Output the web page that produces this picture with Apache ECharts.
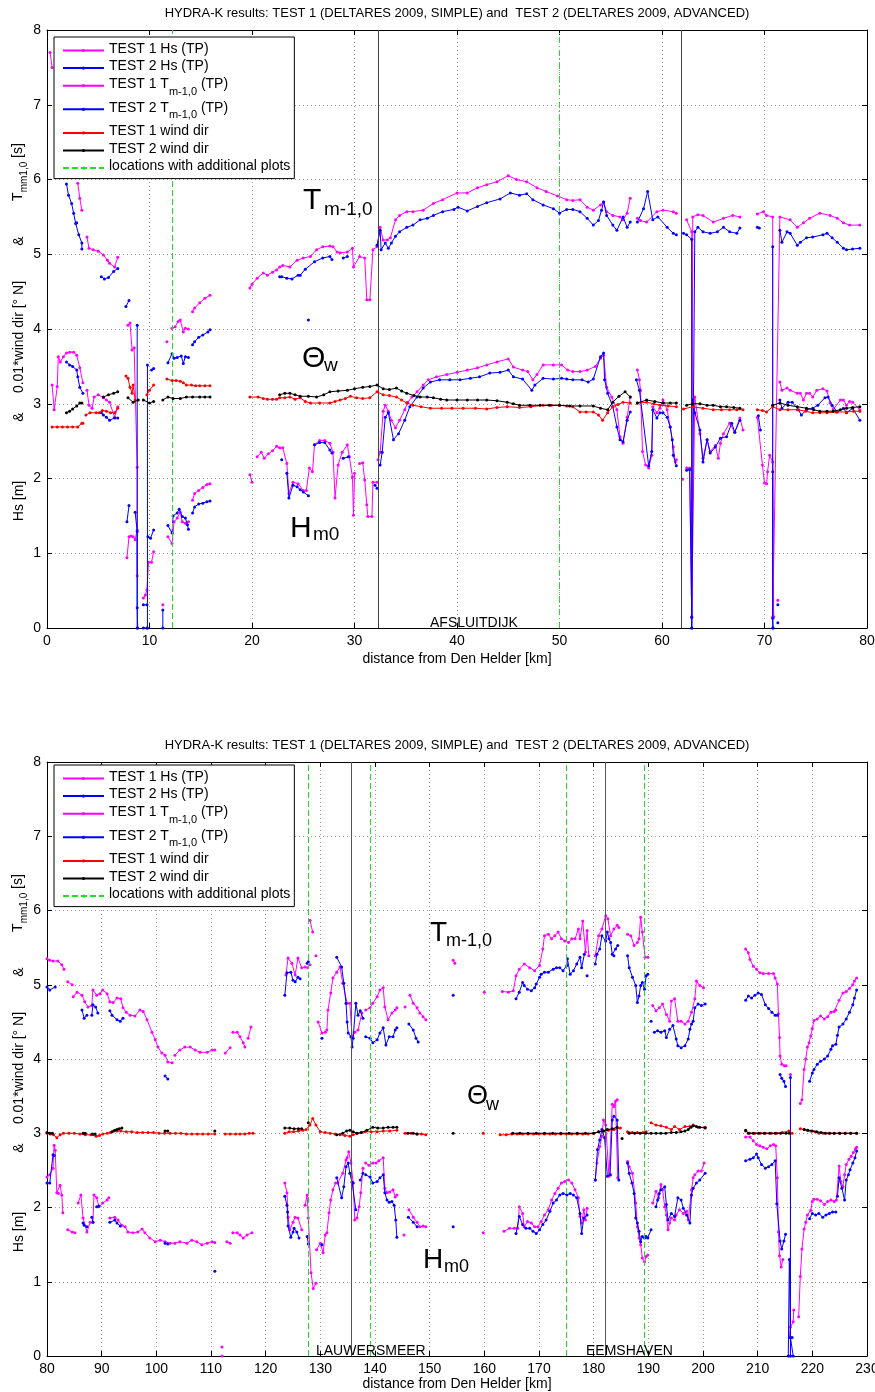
<!DOCTYPE html>
<html><head><meta charset="utf-8">
<script src="https://cdn.jsdelivr.net/npm/echarts@6/dist/echarts.min.js"></script>
<style>html,body{margin:0;padding:0;background:#fff}#c{width:875px;height:1392px}</style>
</head><body><div id="c"></div>
<script>
// ---------------- DATA (km, value); null = gap ----------------
const titleText = 'HYDRA-K results: TEST 1 (DELTARES 2009, SIMPLE) and  TEST 2 (DELTARES 2009, ADVANCED)';
const topRange = [0, 80];
const botRange = [80, 230];
const topGreenLines = [12.2, 50];
const topBlackLines = [32.3, 61.9];
const botGreenLines = [127.7, 139.2, 175.0, 189.2];
const botBlackLines = [135.7, 182.2];

const topT1Hs = [
[0.5,3.25],[0.7,2.92],[1.0,3.23],[1.1,3.63],[1.3,3.56],[1.6,3.63],[1.9,3.68],[2.2,3.69],[2.6,3.69],[2.9,3.65],[3.2,3.48],[3.5,3.28],null,
[3.9,3.18],[4.1,2.98],[4.4,2.94],[4.6,3.09],[5.0,3.12],[5.5,3.08],[5.8,3.05],[6.1,3.02],[6.6,2.82],[6.9,2.96],null,
[7.8,0.94],[8.0,1.22],[8.2,1.23],[8.4,1.22],[8.6,1.18],[8.8,1.31],null,
[9.4,0.4],[9.6,0.44],[9.75,0.51],[9.9,0.88],[10.2,0.88],[10.4,1.02],null,
[11.3,0.31],null,
[11.8,1.22],[12.2,1.13],[12.4,1.42],[12.7,1.47],[13.0,1.55],[13.2,1.42],[13.5,1.4],[13.8,1.42],null,
[14.2,1.71],[14.4,1.8],[14.8,1.84],[15.2,1.88],[15.6,1.92],[15.9,1.93],null,
[19.8,2.05],[20.0,1.95],null,
[20.5,2.29],[20.9,2.35],[21.2,2.27],[21.6,2.33],[22.0,2.37],[22.4,2.43],[22.7,2.41],[23.0,2.41],[23.4,2.2],[23.6,1.8],[24.0,1.95],[24.5,1.93],[25.0,1.84],[25.3,1.84],[25.6,2.14],[25.9,2.09],[26.1,2.45],[26.6,2.51],[27.1,2.51],[27.6,2.47],[27.9,2.35],[28.1,1.74],[28.4,2.18],[28.8,2.35],[29.3,2.45],[29.5,2.29],[29.8,2.02],[29.9,1.51],[30.0,2.07],null,
[30.5,2.2],[30.8,2.21],[31.0,1.98],[31.2,1.65],[31.3,1.49],[31.7,1.49],[31.8,1.95],[32.2,1.95],null,
[32.3,2.25],[32.5,2.35],[32.8,2.9],[33.0,2.98],[33.3,2.9],[33.6,2.78],[34.0,2.68],[34.4,2.78],[34.9,2.92],[35.2,3.02],[35.6,3.09],[36.1,3.16],[36.7,3.25],[37.2,3.32],[38.0,3.36],[39.0,3.39],[40.0,3.42],[41.0,3.45],[42.0,3.48],[42.9,3.52],[43.9,3.56],[45.0,3.6],[45.5,3.49],[46.4,3.45],[46.9,3.43],[47.4,3.32],[47.8,3.39],[48.4,3.52],[49.4,3.52],[50.2,3.52],[50.8,3.45],[51.3,3.43],[52.0,3.43],[52.7,3.45],[53.5,3.5],[54.0,3.61],[54.3,3.65],[54.6,3.22],[55.1,3.09],[55.6,2.92],[55.9,2.56],[56.2,2.47],[56.6,2.82],[56.9,3.09],null,
[57.6,3.45],[57.8,3.32],[57.9,3.18],[58.1,2.36],[58.4,2.18],[58.7,2.14],[59.0,2.31],[59.1,2.96],[59.5,2.88],[59.8,2.94],[60.1,3.05],[60.5,2.92],[60.8,2.69],[61.1,2.42],[61.3,2.22],[61.4,2.25],null,
[62.0,1.99],null,
[62.4,2.14],[62.7,2.14],[62.9,0.15],[63.2,3.09],[63.7,2.6],[64.0,2.27],[64.4,2.52],[64.7,2.36],[65.2,2.44],[65.5,2.27],[65.7,2.47],[66.0,2.6],[66.6,2.74],[67.1,2.62],[67.6,2.81],[67.9,2.65],null,
[69.3,2.82],[69.8,2.18],[70.0,1.94],[70.2,1.93],[70.3,2.09],[70.5,2.31],[70.8,2.22],[70.9,0.15],null,
[71.3,0.37],null,
[71.5,3.29],[71.7,3.18],[72.2,3.21],[72.5,3.18],[73.2,3.14],[73.5,3.14],[73.8,3.05],[74.1,3.14],[74.4,3.14],[74.7,3.09],[75.1,3.18],[75.7,3.2],[76.1,3.17],[76.4,3.01],[76.7,2.92],[77.4,3.05],[77.7,3.05],[78.0,2.98],[78.3,3.03],[78.6,3.02],[79.3,2.92]
];
const topT2Hs = [
[1.9,3.56],[2.2,3.52],[2.5,3.5],[2.9,3.45],[3.0,3.36],[3.2,3.22],[3.5,3.14],null,
[5.3,2.88],[5.5,2.85],[5.8,2.82],[6.1,2.78],[6.6,2.81],[6.9,2.81],null,
[7.8,1.42],[8.0,1.64],null,
[8.6,1.55],[8.8,1.29],[8.8,0.27],[8.85,0.0],null,
[9.4,0.31],[9.75,0.31],null,
[9.4,0.0],[9.75,0.0],null,
[9.85,1.22],[10.1,1.2],[10.4,1.31],null,
[11.3,0.24],[11.3,0.0],null,
[11.8,1.37],[12.2,1.27],[12.3,1.5],[12.7,1.54],[12.9,1.59],[13.2,1.49],[13.5,1.47],[13.7,1.38],[13.8,1.32],null,
[14.2,1.54],[14.4,1.62],[14.8,1.66],[15.2,1.67],[15.6,1.69],[15.9,1.7],null,
[22.9,2.25],null,
[23.4,2.07],[23.6,1.74],[24.0,1.91],[24.4,1.89],[24.7,1.85],[25.0,1.82],[25.5,1.77],null,
[26.1,2.45],[26.6,2.48],[27.1,2.48],[27.6,2.38],[27.8,2.34],null,
[28.9,2.27],[29.4,2.29],null,
[32.0,1.91],[32.2,1.87],null,
[32.5,2.18],[32.7,2.35],[33.0,2.82],[33.3,2.88],[33.8,2.52],[34.3,2.6],[34.9,2.78],[35.4,2.96],[36.1,3.09],[36.7,3.21],[37.4,3.29],[38.3,3.32],[39.3,3.32],[40.3,3.32],[41.3,3.34],[42.2,3.36],[43.2,3.41],[44.2,3.42],[45.0,3.45],[45.5,3.36],[46.4,3.33],[47.3,3.18],[47.6,3.25],[48.4,3.34],[49.4,3.33],[50.2,3.34],[50.7,3.33],[51.3,3.32],[52.2,3.32],[52.8,3.29],[53.3,3.33],[54.0,3.63],[54.3,3.68],[54.4,3.32],[54.7,3.14],[55.2,2.96],[55.6,2.69],[55.9,2.52],[56.2,2.49],[56.6,2.78],[56.9,2.89],null,
[57.5,3.32],[57.8,3.18],[58.7,2.17],[59.0,2.36],[59.1,2.92],[59.5,2.81],[59.8,2.88],[60.1,2.88],[60.5,2.82],[60.8,2.69],[61.0,2.52],[61.1,2.31],[61.4,2.17],null,
[62.4,2.11],[62.7,2.12],[62.9,0.14],[62.9,0.0],null,
[63.0,3.05],[63.2,2.88],[63.7,2.65],[64.0,2.22],[64.4,2.52],[64.7,2.34],[65.2,2.42],[65.7,2.54],[66.3,2.56],[66.8,2.74],[67.1,2.62],[67.6,2.78],null,
[69.4,2.84],[69.6,2.65],null,
[70.8,2.09],[70.8,0.13],[70.85,0.0],null,
[71.3,0.31],null,[71.3,0.07],null,
[71.5,3.05],[71.7,2.94],[72.3,3.02],[72.7,3.02],[73.3,2.92],[73.6,2.85],[74.1,2.92],[74.7,2.94],[75.2,2.98],[75.9,3.08],[76.2,3.09],[76.6,2.98],[77.1,2.89],[77.7,2.94],[78.0,2.88],[78.6,2.94],[79.3,2.78]
];
const topT1Tm = [
[0.3,7.7],[0.5,7.5],null,
[3.0,5.95],[3.2,5.75],[3.4,5.59],null,
[3.9,5.23],[4.1,5.08],[4.5,5.06],[5.0,5.04],[5.5,4.99],[5.9,4.92],[6.1,4.88],[6.6,4.83],[6.9,4.96],null,
[7.9,4.05],[8.1,4.08],[8.3,3.72],[8.5,3.75],[8.8,2.15],[8.8,0.7],null,
[11.7,3.83],null,
[12.2,4.01],[12.5,4.03],[12.8,4.1],[13.0,4.12],[13.3,3.96],[13.5,4.01],[13.8,4.0],null,
[14.2,4.23],[14.4,4.28],[14.9,4.35],[15.4,4.41],[15.9,4.45],null,
[19.8,4.55],[20.0,4.6],[20.5,4.68],[21.1,4.75],[21.5,4.72],[22.0,4.76],[22.4,4.79],[22.7,4.83],[23.0,4.85],[23.7,4.83],[24.4,4.92],[25.0,4.95],[25.7,4.97],[26.3,5.06],[26.9,5.1],[27.6,5.11],[27.9,5.1],[28.3,5.03],[28.6,5.02],[29.3,5.03],[29.8,5.08],[29.9,4.83],[30.5,4.97],[31.0,4.95],[31.2,4.39],[31.5,4.39],[31.8,5.06],[32.2,5.1],
[32.5,5.36],[32.8,5.19],[33.2,5.19],[33.5,5.22],[34.0,5.46],[34.4,5.52],[35.1,5.57],[35.7,5.57],[36.7,5.59],[37.7,5.68],[38.6,5.73],[40.0,5.82],[41.0,5.82],[42.0,5.89],[42.9,5.93],[43.9,5.97],[45.0,6.05],[45.8,6.0],[46.8,5.97],[47.8,5.89],[48.7,5.84],[49.8,5.78],[50.7,5.73],[51.3,5.72],[52.0,5.73],[52.7,5.63],[53.3,5.59],[54.0,5.66],[54.3,5.7],[54.6,5.57],[55.2,5.52],[55.9,5.5],[56.2,5.46],[56.6,5.55],[56.9,5.75],null,
[57.6,5.48],[57.9,5.45],[58.5,5.43],[59.5,5.57],[60.1,5.59],[61.1,5.57],[61.4,5.55],null,
[62.4,5.46],[62.9,5.3],[62.9,0.15],[63.0,5.5],[63.5,5.53],[64.0,5.52],[65.0,5.43],[66.0,5.48],[66.9,5.52],[67.6,5.5],null,
[69.3,5.54],[69.9,5.57],[70.2,5.52],[70.8,5.5],[70.8,0.15],[71.5,5.5],[72.5,5.46],[73.2,5.36],[73.8,5.42],[74.4,5.48],[75.4,5.55],[76.4,5.52],[77.1,5.48],[77.7,5.42],[78.3,5.39],[79.3,5.39]
];
const topT2Tm = [
[1.9,5.94],[2.1,5.79],[2.4,5.68],[2.6,5.55],[2.8,5.41],[2.9,5.42],[3.1,5.26],[3.4,5.15],[3.4,5.07],null,
[5.3,4.7],[5.6,4.67],[6.0,4.69],[6.5,4.77],[6.9,4.81],null,
[7.7,4.3],[8.0,4.38],null,
[8.8,4.05],[8.8,0.0],null,
[9.8,3.52],[9.8,0.0],null,
[10.2,3.45],[10.4,3.47],null,
[11.8,3.55],[12.2,3.67],[12.4,3.61],[12.7,3.62],[13.1,3.64],[13.3,3.54],[13.5,3.63],[13.8,3.62],null,
[14.2,3.79],[14.4,3.83],[14.8,3.89],[15.2,3.92],[15.7,3.96],[15.9,3.99],null,
[22.7,4.7],[22.9,4.7],[23.4,4.68],[23.9,4.67],[24.5,4.72],[24.7,4.72],[25.2,4.8],[26.1,4.9],[26.9,4.95],[27.6,4.97],[27.8,4.93],null,
[25.5,4.12],null,
[28.9,4.95],[29.3,4.97],null,
[32.2,5.12],[32.5,5.32],[32.6,5.06],[33.0,5.15],[33.3,5.08],[33.6,5.15],[34.0,5.24],[34.4,5.3],[35.1,5.36],[35.7,5.39],[36.4,5.46],[37.1,5.48],[37.7,5.52],[38.6,5.57],[39.7,5.6],[40.1,5.63],[41.0,5.58],[42.0,5.64],[42.9,5.69],[44.2,5.74],[45.2,5.82],[46.1,5.79],[46.8,5.81],[47.4,5.73],[48.4,5.66],[49.4,5.61],[50.0,5.55],[50.7,5.6],[51.3,5.6],[52.0,5.57],[52.7,5.48],[53.3,5.39],[53.8,5.45],[54.1,5.59],[54.3,5.7],[54.6,5.52],[55.2,5.39],[55.6,5.32],[56.2,5.5],[56.6,5.36],[56.9,5.43],null,
[57.6,5.43],[58.2,5.61],[58.6,5.84],[59.1,5.46],[59.6,5.5],[60.5,5.36],[61.1,5.28],[61.4,5.26],null,
[62.1,5.28],[62.4,5.26],[62.9,5.2],[62.9,0.0],[63.2,5.3],[63.5,5.36],[64.0,5.3],[64.7,5.28],[65.4,5.3],[66.0,5.36],[66.6,5.3],[67.3,5.28],[67.6,5.35],null,
[69.3,5.36],[69.5,5.35],null,
[70.8,5.1],[70.8,0.0],null,
[71.5,5.32],[71.7,5.16],[72.2,5.3],[72.5,5.28],[73.2,5.12],[73.5,5.16],[74.1,5.22],[74.7,5.23],[75.7,5.26],[76.1,5.28],[76.6,5.22],[77.1,5.16],[77.7,5.08],[78.0,5.06],[78.6,5.07],[79.3,5.08]
];
const topT1Wind = [
[0.5,2.69],[1.0,2.69],[1.5,2.69],[2.0,2.69],[2.5,2.69],[3.0,2.69],[3.4,2.74],[3.5,2.74],null,
[3.8,2.85],[4.2,2.88],[4.8,2.88],[5.1,2.88],[5.4,2.91],[5.8,2.9],[6.2,2.88],[6.6,2.88],[6.9,2.94],null,
[7.7,3.37],[7.9,3.34],[8.1,3.22],[8.3,3.14],[8.4,3.25],[8.6,3.05],null,
[9.75,3.12],[10.0,3.18],[10.4,3.25],null,
[11.7,3.33],[12.2,3.31],[12.6,3.31],[13.0,3.3],[13.3,3.28],[13.6,3.25],[14.1,3.25],[14.5,3.24],[14.9,3.24],[15.4,3.24],[15.9,3.24],null,
[19.8,3.09],[20.6,3.09],[21.1,3.07],[21.5,3.06],[22.0,3.06],[22.4,3.06],[22.7,3.08],[23.2,3.08],[23.7,3.09],[24.2,3.06],[24.7,3.08],[25.2,3.03],[25.7,3.01],[26.6,3.01],[27.6,3.01],[28.1,3.03],[28.6,3.05],[29.1,3.07],[29.6,3.1],[30.2,3.08],[30.8,3.07],[31.5,3.08],[32.2,3.16],[32.8,3.12],[33.4,3.11],[34.1,3.09],[34.6,3.05],[35.1,3.01],[35.7,2.98],[36.5,2.96],[37.4,2.94],[38.5,2.94],[39.5,2.94],[40.6,2.94],[41.8,2.94],[42.9,2.93],[43.9,2.95],[44.9,2.96],[46.1,2.95],[47.2,2.96],[48.4,2.98],[49.2,2.98],[50.0,2.98],[50.7,2.97],[51.3,2.96],[52.0,2.89],[52.6,2.89],[53.3,2.89],[53.8,2.85],[54.2,2.78],[54.7,2.88],[55.2,2.96],[55.7,2.99],[56.2,3.02],[56.9,3.01],null,
[57.6,3.01],[58.5,3.02],[59.2,3.0],[59.8,2.98],[60.6,2.97],[61.4,2.96],null,
[62.1,2.93],[63.0,2.96],[64.0,2.94],[65.0,2.92],[65.8,2.92],[66.6,2.92],[67.3,2.92],[67.9,2.92],null,
[69.3,2.92],[69.8,2.91],[70.2,2.89],[70.8,2.96],[71.5,2.92],[72.3,2.92],[73.2,2.92],[74.0,2.9],[74.7,2.88],[75.4,2.88],[76.1,2.88],[77.0,2.89],[78.0,2.89],[78.7,2.9],[79.3,2.9]
];
const topT2Wind = [
[1.9,2.88],[2.2,2.9],[2.5,2.93],[2.9,2.97],[3.2,3.01],[3.4,3.01],null,
[5.5,3.09],[6.0,3.12],[6.5,3.14],[6.9,3.16],null,
[7.9,3.08],[8.4,3.02],[8.9,3.05],null,
[9.4,3.05],[10.0,3.01],[10.4,3.03],null,
[11.3,3.05],[11.8,3.09],[12.3,3.07],[13.0,3.07],[13.6,3.09],[14.2,3.09],[14.9,3.09],[15.4,3.09],[15.9,3.09],null,
[22.7,3.12],[23.2,3.14],[23.7,3.14],[24.2,3.12],[24.7,3.1],[25.5,3.1],[26.3,3.09],[27.0,3.12],[27.6,3.16],[28.4,3.17],[29.3,3.18],[30.0,3.2],[30.8,3.22],[31.5,3.23],[32.2,3.25],[32.8,3.2],[33.4,3.19],[34.1,3.21],[34.6,3.17],[35.1,3.14],[35.8,3.11],[36.4,3.09],[37.1,3.09],[37.7,3.08],[38.4,3.06],[39.0,3.05],[40.0,3.05],[41.0,3.05],[42.0,3.05],[42.9,3.05],[43.9,3.04],[44.9,3.02],[45.5,3.0],[46.1,2.98],[47.1,2.98],[48.1,2.98],[49.0,2.98],[50.0,2.98],[51.0,2.97],[52.0,2.97],[53.3,2.97],[54.0,2.94],[54.7,2.92],[55.2,3.02],[55.8,3.1],[56.4,3.16],[56.9,3.09],null,
[57.6,3.01],[58.5,3.05],[59.3,3.03],[60.1,3.01],[60.8,3.01],[61.4,3.01],null,
[62.4,2.98],[63.0,3.0],[63.7,3.0],[64.4,2.98],[65.0,2.98],[65.7,2.96],[66.3,2.96],[67.0,2.95],[67.6,2.94],null,
[70.8,2.98],[71.5,3.01],[72.3,2.98],[73.2,2.96],[74.1,2.94],[74.8,2.92],[75.4,2.9],[76.1,2.9],[76.7,2.9],[77.4,2.92],[78.0,2.94],[78.6,2.95],[79.3,2.96]
];

const botT1Hs = [
[80.0,2.41],[80.5,2.44],[81.1,2.53],[81.3,2.84],[81.5,2.77],[81.8,2.2],[82.1,2.19],[82.4,2.3],[82.7,2.17],[82.9,1.93],null,
[83.8,1.7],[84.6,1.67],[85.1,1.66],null,
[85.7,2.06],[86.2,2.17],[86.6,1.86],[87.3,1.67],[87.9,1.8],[88.4,1.8],[88.6,2.17],[89.1,2.13],[89.5,2.01],[90.2,2.06],[91.0,2.1],[91.3,2.13],null,
[91.5,1.86],[92.4,1.87],[93.0,1.83],[93.7,1.76],[94.3,1.74],[94.8,1.67],[95.7,1.66],[96.6,1.67],[97.4,1.71],[97.9,1.66],[98.8,1.59],[99.8,1.54],[100.7,1.56],[101.6,1.54],[102.5,1.52],[103.4,1.52],[104.3,1.54],[105.6,1.52],[106.5,1.56],[107.4,1.54],[108.3,1.5],[109.3,1.52],[110.2,1.54],[110.7,1.53],null,
[112.0,0.12],null,[112.0,0.0],null,
[112.9,1.54],[113.5,1.52],null,
[114.0,1.66],[114.8,1.66],[115.3,1.63],[115.9,1.59],[116.6,1.63],[117.5,1.66],null,
[123.5,2.33],[123.9,2.2],[124.1,1.87],[124.4,1.7],[125.0,1.8],[125.4,1.87],[125.9,1.86],[126.6,1.7],null,
[127.2,2.03],[127.6,2.17],[127.8,1.86],[128.3,1.12],[128.7,0.91],[129.2,0.98],null,
[129.3,1.43],[130.0,1.52],[130.5,1.39],[130.9,1.63],[131.2,1.66],[131.6,1.93],[131.9,2.1],[132.3,2.24],[132.8,2.33],[133.2,2.33],[134.1,2.46],[134.7,2.64],[134.9,2.67],[135.2,2.75],[135.6,2.6],[136.0,2.33],[136.3,1.83],[136.7,1.86],[137.1,2.01],[137.4,2.2],[137.8,2.53],null,
[138.3,2.6],[138.9,2.57],[139.6,2.6],[140.2,2.6],[140.7,2.63],[141.5,2.67],[141.8,2.26],[142.2,2.2],[142.7,2.21],[143.3,2.24],[143.7,2.14],[144.0,2.17],null,
[145.3,1.63],null,
[146.2,1.97],[147.0,1.87],[147.7,1.8],[148.2,1.74],[148.8,1.75],[149.3,1.74],null,
[159.8,1.66],null,
[163.6,1.68],[164.6,1.72],[165.5,1.72],[166.1,1.72],[166.4,2.01],[167.0,1.92],[167.3,1.74],[167.9,1.81],[168.6,1.79],[169.2,1.74],[169.8,1.74],[170.4,1.81],[171.0,1.9],[171.7,1.97],[172.3,2.1],[172.9,2.19],[173.5,2.26],[174.1,2.33],[174.7,2.35],[175.4,2.37],[176.0,2.33],[176.6,2.24],[177.2,2.13],[177.5,1.88],[177.8,1.79],[178.2,1.97],[178.5,1.83],[178.8,1.99],null,
[180.3,2.37],[180.6,2.6],[181.1,2.82],[181.5,2.96],[181.8,3.18],[182.2,3.11],[182.8,2.42],[183.1,2.44],[183.4,3.39],[183.7,3.36],[184.0,3.43],[184.3,3.45],[184.4,2.4],null,
[186.2,2.62],[186.5,2.55],[187.1,2.46],[187.7,2.06],[188.0,1.74],[188.3,1.59],[188.6,1.5],[188.9,1.32],[189.3,1.27],[189.6,1.34],[189.9,1.36],null,
[190.8,2.06],[191.4,2.22],[191.9,2.13],[192.3,2.31],[192.6,2.24],[193.0,2.01],[193.3,1.9],[193.6,1.7],[193.9,1.79],[194.2,1.86],[194.8,1.83],[195.1,1.9],[195.7,1.97],[196.4,1.92],[197.0,1.95],[197.3,1.83],[197.9,2.24],[198.2,2.4],[198.5,2.44],[199.1,2.49],[199.7,2.49],[200.2,2.6],null,
[207.8,2.95],[208.6,2.95],[209.2,2.9],[209.8,2.85],[210.4,2.83],[211.0,2.81],[211.7,2.79],[212.3,2.83],[212.9,2.85],[213.3,2.83],[213.6,2.4],[213.8,1.67],[214.0,1.35],[214.3,1.2],[214.6,1.3],null,
[215.8,0.25],[216.0,0.39],[216.5,0.46],[216.6,0.62],null,
[217.5,0.53],[217.8,1.07],[218.1,1.44],[218.5,1.71],[218.8,1.8],[219.1,1.9],[219.7,1.96],[220.0,2.08],[220.3,2.11],[220.9,2.11],[221.5,2.09],[222.2,2.04],[222.8,2.08],[223.4,2.1],[224.0,2.08],[224.4,2.1],[224.9,2.56],[225.2,2.35],[225.6,2.28],[225.9,2.44],[226.2,2.58],[226.7,2.65],[227.1,2.69],[227.5,2.74],[227.9,2.79],[228.1,2.81]
];
const botT2Hs = [
[80.0,2.33],[80.5,2.33],[81.1,2.71],[81.3,2.7],null,
[86.6,1.79],[86.8,1.76],[87.3,1.74],null,
[88.2,1.87],[88.4,1.8],null,
[89.1,2.01],[89.5,2.02],null,
[91.5,1.8],[92.4,1.83],[92.8,1.79],[93.4,1.75],null,
[101.6,1.52],[102.1,1.51],null,
[110.7,1.14],null,
[123.5,2.15],[123.9,2.03],[124.0,1.94],[124.1,1.75],[124.6,1.6],[125.0,1.67],[125.2,1.72],[125.7,1.67],[126.1,1.59],null,
[127.6,1.61],[127.8,1.51],null,
[130.3,1.5],null,
[133.0,2.4],[133.9,2.13],[134.3,2.28],[134.7,2.55],[135.1,2.6],[135.4,2.46],[135.8,2.34],[136.0,2.33],[136.5,1.97],null,
[137.3,2.37],[137.8,2.46],null,
[138.3,2.44],[139.1,2.41],[139.6,2.33],[140.4,2.35],[140.9,2.4],[141.5,2.44],[141.8,2.2],[142.2,2.1],[142.6,2.07],[143.1,2.08],[143.5,2.03],[143.8,1.83],[144.0,1.6],null,
[146.1,1.87],[147.0,1.8],[147.7,1.74],null,
[154.3,1.74],null,
[165.8,1.65],[166.4,1.88],[167.0,1.77],[167.6,1.72],[168.3,1.72],[168.9,1.68],[169.5,1.65],[170.1,1.7],[170.7,1.77],[171.3,1.83],[172.0,1.95],[172.6,2.06],[173.2,2.1],[173.8,2.17],[174.4,2.19],[175.1,2.17],[175.7,2.19],[176.3,2.17],[176.9,2.13],[177.5,1.92],[177.8,1.65],[178.2,1.86],[178.8,1.9],null,
[180.3,2.37],[180.7,2.78],[181.1,2.91],[181.5,3.05],[182.0,2.94],[182.5,2.42],[183.0,2.44],[183.4,3.18],[183.7,3.23],[184.3,3.18],[184.6,2.37],null,
[186.2,2.6],[186.5,2.46],[187.0,2.33],[187.4,2.19],[187.7,1.86],[188.0,1.79],[188.3,1.68],[188.6,1.54],[188.9,1.61],[189.3,1.59],[189.6,1.61],[189.9,1.59],[190.5,1.7],null,
[191.4,2.01],[191.7,2.1],[192.0,2.19],[192.3,2.24],[193.0,2.28],[193.3,2.04],[193.6,1.83],[194.2,1.92],[194.8,1.88],[195.4,2.13],[196.0,2.1],[196.4,1.99],[197.0,1.9],[197.6,1.79],[197.9,2.17],[198.2,2.26],[198.8,2.33],[199.4,2.37],[200.4,2.46],null,
[207.8,2.63],[208.6,2.65],[209.2,2.67],[209.8,2.72],[210.1,2.67],[210.7,2.58],[211.4,2.53],[212.0,2.55],[212.6,2.58],[213.2,2.63],[213.5,2.05],[214.1,1.55],[214.4,1.44],[214.8,1.55],[215.1,1.64],null,
[215.6,0.0],[215.8,1.3],[216.0,0.25],[216.3,0.25],[216.5,0.0],null,
[219.5,1.85],[220.0,1.92],[220.6,1.9],[221.2,1.92],[221.9,1.87],[222.5,1.9],[223.1,1.92],[223.7,1.94],[224.3,1.94],null,
[224.6,2.15],[224.9,2.4],[225.4,2.26],[225.9,2.1],[226.2,2.37],[226.6,2.44],[226.9,2.51],[227.4,2.6],[227.8,2.67],[228.1,2.76]
];
const botT1Tm = [
[80.0,5.35],[80.5,5.33],[81.1,5.32],[82.0,5.32],[82.7,5.27],[83.1,5.21],null,
[83.8,5.04],[84.6,5.0],null,
[84.8,4.84],[85.5,4.9],[86.4,4.86],[86.9,4.77],[87.5,4.7],[88.2,4.72],[88.4,4.93],[89.1,4.86],[89.7,4.88],[90.2,4.93],[91.0,4.88],[91.5,4.77],[92.1,4.76],[92.8,4.82],[93.5,4.81],[93.9,4.69],[94.5,4.63],[95.2,4.59],[96.1,4.58],[97.0,4.66],[97.6,4.64],[98.3,4.53],[99.2,4.36],[99.8,4.26],[100.3,4.16],[101.0,4.08],[101.6,4.05],[102.1,3.96],[102.9,3.95],null,
[103.4,4.05],[104.3,4.12],[105.2,4.16],[106.2,4.16],[107.1,4.12],[108.0,4.09],[109.3,4.09],[110.2,4.12],[110.7,4.12],null,
[112.6,4.08],[113.5,4.15],null,
[114.0,4.36],[114.8,4.36],[115.3,4.3],[115.9,4.22],[116.2,4.16],null,
[116.8,4.28],[117.3,4.43],null,
[123.7,5.13],[124.1,5.36],[124.8,5.29],[125.4,5.13],[125.9,5.36],[126.6,5.23],[127.2,5.24],[127.7,5.23],[128.1,5.27],null,
[128.1,5.87],[128.6,5.71],null,[129.2,5.39],null,
[129.6,4.5],[130.3,4.35],[130.9,4.36],[131.2,4.39],[131.4,4.66],[131.9,4.89],[132.3,5.09],[133.0,5.17],[133.6,5.24],[134.1,5.02],[134.9,4.75],[135.4,4.75],[135.8,4.3],[136.3,4.36],[136.9,4.39],[137.6,4.62],null,
[138.3,4.66],[139.1,4.69],[139.6,4.75],[140.4,4.84],[140.9,4.93],[141.5,4.96],[141.8,4.7],[142.4,4.53],[143.1,4.62],[143.7,4.66],[144.0,4.69],null,
[145.5,4.7],null,
[146.4,4.86],[147.0,4.75],[147.7,4.69],[148.2,4.62],[148.8,4.57],[149.3,4.53],null,
[154.3,5.33],[154.6,5.29],null,
[160.0,4.9],null,
[163.3,4.91],[164.4,4.9],[165.3,4.92],[165.8,5.12],[166.4,5.21],[167.3,5.28],[168.3,5.23],[169.2,5.19],[170.1,5.26],[170.7,5.48],[171.0,5.66],[171.7,5.68],[172.3,5.62],[172.9,5.66],[173.5,5.71],[174.1,5.62],[174.7,5.59],[175.4,5.57],[176.0,5.62],[176.6,5.62],[177.2,5.75],[177.5,5.62],[178.0,5.86],[178.5,5.44],[178.8,5.73],[179.1,5.39],null,
[180.3,5.39],[180.9,5.66],[181.5,5.75],[182.2,5.93],[182.6,5.89],[183.1,5.66],[183.7,5.75],[184.3,5.8],[184.6,5.77],null,
[186.2,5.68],[186.8,5.66],[187.4,5.53],[188.0,5.57],[188.3,5.62],[188.6,5.91],[188.9,5.71],[189.4,5.37],[189.9,5.37],null,
[190.8,4.72],[191.4,4.65],[192.0,4.69],[192.6,4.74],[193.3,4.6],[193.9,4.51],[194.2,4.78],[194.8,4.81],[195.4,4.51],[196.0,4.51],[196.7,4.47],[197.3,4.51],[197.9,4.63],[198.5,4.81],[198.8,5.05],[199.4,4.99],[200.1,4.96],null,
[207.8,5.48],[208.3,5.43],[208.6,5.34],[209.2,5.25],[209.8,5.21],[210.4,5.16],[211.0,5.15],[212.0,5.15],[212.9,5.15],[213.2,5.09],[213.6,5.01],[213.8,4.61],[214.0,4.29],[214.1,4.04],[214.4,3.93],[214.9,3.91],[215.2,3.91],null,
[216.0,3.79],[216.0,0.0],null,
[217.8,3.4],[218.1,3.45],[218.5,3.86],[218.8,4.0],[219.1,4.16],[219.4,4.22],[219.7,4.31],[220.0,4.41],[220.3,4.52],[220.9,4.54],[221.5,4.58],[222.2,4.54],[222.8,4.57],[223.4,4.63],[224.0,4.64],[224.3,4.66],[224.9,4.79],[225.6,4.89],[226.2,4.91],[226.8,4.95],[227.4,5.0],[227.7,5.05],[228.1,5.09]
];
const botT2Tm = [
[80.0,4.97],[80.5,4.93],[81.5,4.97],null,
[86.4,4.66],[86.8,4.55],[87.3,4.59],null,
[88.2,4.59],[88.4,4.73],[88.9,4.7],[89.3,4.62],null,
[91.5,4.65],[91.9,4.59],[92.8,4.53],[93.4,4.51],[93.9,4.55],null,
[101.6,3.77],[102.1,3.73],null,
[123.5,4.86],[123.9,5.16],[124.6,5.17],[125.0,5.06],[125.4,5.04],[125.9,5.1],[126.3,5.08],null,
[127.6,5.29],[127.8,5.31],null,
[130.3,4.28],null,
[133.0,5.37],[133.9,5.24],[134.3,5.02],[134.7,4.75],[134.9,4.5],[135.1,4.35],[135.6,4.3],[135.8,4.16],[136.0,4.28],[136.5,4.75],[136.9,4.59],[137.3,4.65],[137.8,4.55],null,
[138.3,4.3],[139.1,4.28],[139.6,4.22],[140.4,4.26],[140.9,4.35],[141.5,4.42],[142.0,4.19],[142.6,4.3],[143.3,4.3],[143.7,4.39],[144.0,4.42],null,
[146.2,4.47],[147.0,4.39],[147.5,4.28],[147.9,4.23],null,
[154.3,4.86],null,
[165.8,4.81],[166.4,4.9],[167.0,5.03],[167.3,4.99],[167.9,4.94],[168.6,4.92],[169.2,4.96],[169.5,5.01],[170.1,5.1],[170.4,5.14],[171.0,5.17],[171.7,5.17],[172.6,5.21],[173.2,5.23],[173.8,5.23],[174.4,5.19],[175.1,5.26],[175.2,5.35],[175.7,5.14],[176.3,5.19],[176.9,5.28],[177.5,5.37],[177.8,5.23],[178.3,5.41],null,
[178.8,5.12],null,
[180.3,5.28],[180.6,5.41],[181.1,5.48],[181.5,5.66],[182.2,5.59],[182.5,5.71],[182.8,5.62],[183.1,5.57],[183.4,5.41],[183.7,5.39],[184.0,5.48],[184.4,5.53],null,
[186.2,5.39],[186.5,5.23],[187.1,5.1],[187.7,4.99],[188.0,4.76],[188.3,4.85],[188.6,4.99],[188.9,5.03],[189.3,4.94],[189.6,5.12],[189.9,5.14],null,
[190.5,4.51],null,
[191.1,4.36],[191.7,4.38],[192.3,4.36],[193.0,4.38],[193.3,4.29],[193.9,4.4],[194.5,4.45],[195.1,4.27],[195.4,4.18],[196.0,4.15],[196.7,4.18],[197.3,4.27],[197.6,4.4],[197.9,4.47],[198.2,4.51],[198.5,4.69],[199.1,4.74],[199.7,4.72],[200.4,4.74],null,
[207.8,4.79],[208.3,4.85],[208.9,4.82],[209.5,4.86],[210.1,4.89],[210.7,4.87],[211.4,4.73],[212.0,4.68],[212.6,4.63],[213.2,4.59],[213.6,4.59],null,
[214.1,3.79],[214.4,3.74],[214.8,3.7],[215.1,3.63],null,
[216.0,3.75],[216.0,0.0],null,
[219.5,3.7],[220.0,3.81],[220.3,3.86],[220.9,3.93],[221.5,3.97],[222.2,4.0],[222.8,4.04],[223.4,4.13],[223.7,4.18],[224.3,4.2],[224.6,4.32],[224.9,4.43],[225.6,4.47],[226.2,4.54],[226.8,4.63],[227.4,4.73],[227.7,4.82],[228.1,4.93]
];
const botT1Wind = [
[80.0,3.0],[80.6,2.99],[81.2,2.98],[81.8,2.94],[82.4,2.98],[83.0,3.0],[84.0,3.0],[85.0,3.0],[86.0,2.99],[87.0,2.98],[88.0,2.98],[89.0,2.96],[89.6,2.97],[90.2,2.99],[91.0,3.0],[91.6,3.01],[92.2,3.03],[92.8,3.03],[93.5,3.03],[94.5,3.02],[95.5,3.02],[96.5,3.01],[97.5,3.01],[98.5,3.01],[99.5,3.01],[100.5,3.0],[101.5,3.0],[102.5,3.0],[103.5,3.0],[104.5,3.0],[105.5,2.99],[106.5,2.99],[107.5,2.99],[108.5,2.99],[109.5,2.99],[110.7,2.99],null,
[112.6,2.99],[113.5,2.99],[114.5,2.99],[115.3,2.99],[116.2,2.99],[117.0,3.0],[117.7,3.0],null,
[123.5,3.0],[124.3,3.02],[125.1,3.02],[126.0,3.03],[126.8,3.04],[127.4,3.05],[128.1,3.11],[128.6,3.2],[129.2,3.11],[130.0,3.02],[130.9,3.01],[131.8,3.0],[132.7,2.99],[133.6,2.98],[134.5,2.97],[135.4,2.96],[136.0,2.98],[136.7,3.0],[137.5,3.01],[138.2,3.02],[139.3,3.02],[140.4,3.02],[141.5,3.03],[142.7,3.03],[144.0,3.04],null,
[145.5,3.0],[146.6,3.0],[147.7,2.99],[148.5,2.99],[149.3,2.98],null,
[159.8,3.0],null,
[162.9,2.98],[164.0,2.98],[165.0,2.99],[166.0,2.99],[167.0,2.99],[168.0,2.99],[169.0,2.99],[170.0,2.99],[171.0,2.99],[172.0,2.99],[173.0,2.99],[174.0,2.99],[175.0,2.99],[176.0,2.99],[177.0,2.99],[178.0,2.99],[179.0,2.99],[180.0,3.0],[180.9,3.02],[181.8,3.03],[182.7,3.04],[183.7,3.05],[184.9,3.07],null,
[186.2,3.02],[187.1,3.01],[188.0,3.01],[189.0,3.01],[189.6,3.02],null,
[190.5,3.14],[191.4,3.11],[192.3,3.1],[193.3,3.08],[194.2,3.05],[194.8,3.09],[195.7,3.05],[196.7,3.09],[197.6,3.09],[198.2,3.11],[199.1,3.08],[200.4,3.08],null,
[207.8,3.03],[208.5,3.0],[209.5,3.0],[210.5,3.0],[211.4,3.0],[212.5,3.0],[213.5,3.0],[214.5,3.01],[215.7,3.03],[216.3,3.0],null,
[217.8,3.06],[218.5,3.05],[219.1,3.04],[219.7,3.03],[220.5,3.02],[221.2,3.0],[222.0,3.0],[223.0,3.0],[224.0,3.0],[225.0,3.0],[226.0,3.0],[227.0,3.0],[228.1,3.0]
];
const botT2Wind = [
[80.0,3.01],[80.5,3.0],[81.0,3.0],null,
[86.6,3.0],[87.0,3.0],null,
[88.3,2.99],[88.8,2.99],null,
[91.9,3.02],[92.4,3.04],[92.8,3.05],[93.2,3.06],[93.7,3.07],null,
[101.6,3.03],[102.1,3.03],null,
[110.7,3.03],null,
[123.5,3.07],[124.4,3.07],[125.2,3.06],[126.0,3.06],[126.6,3.06],null,
[127.8,3.14],null,
[133.0,2.98],[134.1,3.0],[134.8,3.03],[135.4,3.04],[136.0,3.02],[136.7,3.0],[137.5,3.01],[138.5,3.04],[139.6,3.08],[140.5,3.07],[141.5,3.07],[142.4,3.08],[143.3,3.08],[144.0,3.08],null,
[146.0,3.0],[147.0,3.0],[147.7,2.99],null,
[154.3,3.0],null,
[165.2,3.0],[166.5,3.0],[168.0,3.0],[169.5,3.0],[171.0,3.0],[172.5,3.0],[174.0,3.0],[175.5,3.0],[177.0,3.0],[178.5,3.0],[180.0,3.0],[180.9,3.02],[181.8,3.03],[182.5,3.05],[183.4,3.06],[184.3,3.08],null,
[185.2,2.93],null,
[186.5,3.0],[187.5,3.0],[188.5,3.0],[189.5,3.0],[190.5,3.0],[191.4,3.0],[192.3,3.0],[193.2,3.0],[194.2,3.01],[195.1,3.01],[196.0,3.02],[196.7,3.03],[197.3,3.05],[197.8,3.08],[198.2,3.1],[198.8,3.09],[199.4,3.08],[200.4,3.07],null,
[207.8,3.04],[208.3,3.0],[209.2,3.0],[210.2,3.0],[211.2,3.0],[212.2,3.0],[213.2,3.0],[214.2,3.0],[215.2,3.0],[215.8,3.0],null,
[218.5,3.05],[219.2,3.04],[220.0,3.03],[220.8,3.02],[221.6,3.01],[222.4,3.0],[223.2,3.0],[224.0,3.0],[225.0,3.0],[226.0,3.0],[227.0,3.0],[228.1,3.0]
];

// ---------------- CHART ----------------
const FONT = '"Liberation Sans", Arial, Helvetica, sans-serif';
const N = {
  t1hs: 'TEST 1 Hs (TP)', t2hs: 'TEST 2 Hs (TP)',
  t1tm: 'TEST 1 Tm-1,0 (TP)', t2tm: 'TEST 2 Tm-1,0 (TP)',
  t1wd: 'TEST 1 wind dir', t2wd: 'TEST 2 wind dir',
  loc: 'locations with additional plots'
};
const legendNames = [N.t1hs, N.t2hs, N.t1tm, N.t2tm, N.t1wd, N.t2wd, N.loc];
const MAG = '#FF00FF', BLU = '#0000FF', RED = '#FF0000', BLK = '#000000', GRN = '#22DD22';

function pts(a) { return a.map(p => p === null ? ['-', '-'] : p); }
function line(name, data, color, g, z) {
  return {
    type: 'line', name, data: pts(data), xAxisIndex: 2 * g, yAxisIndex: 2 * g,
    symbol: 'circle', symbolSize: 3, showSymbol: true, showAllSymbol: true,
    connectNulls: false, animation: false, silent: true, z: z,
    lineStyle: { color, width: 1 }, itemStyle: { color },
    emphasis: { disabled: true }
  };
}
function markSeries(name, color, xs, g, types) {
  return {
    type: 'line', name, data: [], xAxisIndex: 2 * g, yAxisIndex: 2 * g,
    symbol: 'none', animation: false, silent: true,
    lineStyle: { color, width: 1, type: [6, 3] }, itemStyle: { color },
    markLine: {
      silent: true, symbol: ['none', 'none'], animation: false,
      label: { show: false },
      lineStyle: { color, width: 1, type: [6, 3] },
      emphasis: { disabled: true },
      data: xs.map((x, i) => ({ xAxis: x, lineStyle: { color, width: 1, type: types ? types[i] : 'solid' } }))
    }
  };
}

const grids = [
  { left: 47, top: 30, width: 820, height: 598, range: topRange, gap: 24 },
  { left: 47, top: 762, width: 820, height: 594, range: botRange, gap: 21 }
];

const xAxis = [], yAxis = [];
grids.forEach((g, i) => {
  xAxis.push({
    gridIndex: i, type: 'value', min: g.range[0], max: g.range[1], interval: 10, position: 'bottom',
    axisLine: { show: true, onZero: false, lineStyle: { color: '#000', width: 1 } },
    axisTick: { show: true, inside: true, length: 5, lineStyle: { color: '#000' } },
    axisLabel: { color: '#000', fontSize: 14, fontFamily: FONT, margin: 6 },
    splitLine: { show: true, lineStyle: { color: '#9a9a9a', type: [1, 3], width: 1 } },
    name: 'distance from Den Helder [km]', nameLocation: 'middle', nameGap: g.gap,
    nameTextStyle: { color: '#000', fontSize: 14, fontFamily: FONT }
  });
  xAxis.push({
    gridIndex: i, type: 'value', min: g.range[0], max: g.range[1], interval: 10, position: 'top',
    axisLine: { show: true, onZero: false, lineStyle: { color: '#000', width: 1 } },
    axisTick: { show: true, inside: true, length: 5, lineStyle: { color: '#000' } },
    axisLabel: { show: false }, splitLine: { show: false }
  });
  yAxis.push({
    gridIndex: i, type: 'value', min: 0, max: 8, interval: 1, position: 'left',
    axisLine: { show: true, onZero: false, lineStyle: { color: '#000', width: 1 } },
    axisTick: { show: true, inside: true, length: 5, lineStyle: { color: '#000' } },
    axisLabel: { color: '#000', fontSize: 14, fontFamily: FONT, margin: 6 },
    splitLine: { show: true, lineStyle: { color: '#9a9a9a', type: [1, 3], width: 1 } }
  });
  yAxis.push({
    gridIndex: i, type: 'value', min: 0, max: 8, interval: 1, position: 'right',
    axisLine: { show: true, onZero: false, lineStyle: { color: '#000', width: 1 } },
    axisTick: { show: true, inside: true, length: 5, lineStyle: { color: '#000' } },
    axisLabel: { show: false }, splitLine: { show: false }
  });
});

const series = [
  line(N.t1hs, topT1Hs, MAG, 0, 3), line(N.t2hs, topT2Hs, BLU, 0, 4),
  line(N.t1tm, topT1Tm, MAG, 0, 3), line(N.t2tm, topT2Tm, BLU, 0, 4),
  line(N.t1wd, topT1Wind, RED, 0, 5), line(N.t2wd, topT2Wind, BLK, 0, 6),
  markSeries(N.loc, GRN, topGreenLines, 0, [[6, 3], [6, 3, 1, 3]]),
  markSeries('markers-top', '#444444', topBlackLines, 0),
  line(N.t1hs, botT1Hs, MAG, 1, 3), line(N.t2hs, botT2Hs, BLU, 1, 4),
  line(N.t1tm, botT1Tm, MAG, 1, 3), line(N.t2tm, botT2Tm, BLU, 1, 4),
  line(N.t1wd, botT1Wind, RED, 1, 5), line(N.t2wd, botT2Wind, BLK, 1, 6),
  markSeries(N.loc, GRN, botGreenLines, 1, [[6, 3], [6, 3], [6, 3], [6, 3]]),
  markSeries('markers-bot', '#555555', botBlackLines, 1)
];

function legendFmt(name) {
  if (name.indexOf('Tm-1,0') >= 0) {
    const pre = name.substring(0, name.indexOf('Tm-1,0'));
    return '{n|' + pre + 'T}{s|m-1,0}{n| (TP)}';
  }
  return '{n|' + name + '}';
}
function legendAt(top) {
  return {
    orient: 'vertical', left: 54, top, padding: [5, 4, 5, 8], itemGap: 3.6,
    itemWidth: 41, itemHeight: 4, selectedMode: false,
    backgroundColor: '#fff', borderColor: '#000', borderWidth: 1, borderRadius: 0,
    data: legendNames, formatter: legendFmt, z: 50,
    textStyle: {
      color: '#000', fontSize: 14, fontFamily: FONT,
      rich: {
        n: { fontSize: 14, fontFamily: FONT, color: '#000', lineHeight: 17, verticalAlign: 'top' },
        s: { fontSize: 11, fontFamily: FONT, color: '#000', lineHeight: 12, padding: [9, 0, 0, 0], verticalAlign: 'top' }
      }
    }
  };
}

function txt(x, y, text, size, opts) {
  return Object.assign({
    type: 'text', x, y, z: 100, silent: true,
    style: Object.assign({ text, fontSize: size, fontFamily: FONT, fill: '#000', align: 'left', verticalAlign: 'middle' }, (opts && opts.style) || {})
  }, opts && opts.rotation ? { rotation: opts.rotation } : {});
}
const ROT = Math.PI / 2;
function yLabels(dy) {
  const out = [];
  out.push({
    type: 'text', x: 19, y: 172 + dy, rotation: ROT, z: 100, silent: true,
    style: {
      text: '{n|T}{s|mm1,0}{n| [s]}', align: 'center', verticalAlign: 'middle',
      rich: {
        n: { fontSize: 14, fontFamily: FONT, fill: '#000', lineHeight: 16, verticalAlign: 'top' },
        s: { fontSize: 10, fontFamily: FONT, fill: '#000', lineHeight: 11, padding: [8, 0, 0, 0], verticalAlign: 'top' }
      }
    }
  });
  out.push(txt(19, 241 + dy, '&', 14, { rotation: ROT, style: { align: 'center' } }));
  out.push(txt(19, 337 + dy, '0.01*wind dir [° N]', 14, { rotation: ROT, style: { align: 'center' } }));
  out.push(txt(19, 417 + dy, '&', 14, { rotation: ROT, style: { align: 'center' } }));
  out.push(txt(19, 501 + dy, 'Hs [m]', 14, { rotation: ROT, style: { align: 'center' } }));
  return out;
}

const graphic = [].concat(
  yLabels(0), yLabels(731),
  [
    txt(303, 201, 'T', 30), txt(324, 210, 'm-1,0', 19),
    txt(302, 359, 'Θ', 30), txt(324, 366, 'w', 19),
    txt(290, 529, 'H', 30), txt(313, 535, 'm0', 19),
    txt(430, 630, 'AFSLUITDIJK', 14, { style: { verticalAlign: 'bottom' } }),
    txt(430, 933, 'T', 28), txt(446, 941, 'm-1,0', 18),
    txt(467, 1097, 'Θ', 27), txt(486, 1105, 'w', 18),
    txt(423, 1260, 'H', 28), txt(444, 1267, 'm0', 18),
    txt(316, 1358, 'LAUWERSMEER', 14, { style: { verticalAlign: 'bottom' } }),
    txt(586, 1358, 'EEMSHAVEN', 14, { style: { verticalAlign: 'bottom' } })
  ]
);

const chart = echarts.init(document.getElementById('c'), null, { renderer: 'canvas' });
chart.setOption({
  backgroundColor: '#fff',
  animation: false,
  textStyle: { fontFamily: FONT },
  title: [
    { text: titleText, left: 457, top: 7, textAlign: 'center', padding: 0,
      textStyle: { fontSize: 13, fontWeight: 'normal', color: '#000', fontFamily: FONT } },
    { text: titleText, left: 457, top: 739, textAlign: 'center', padding: 0,
      textStyle: { fontSize: 13, fontWeight: 'normal', color: '#000', fontFamily: FONT } }
  ],
  legend: [legendAt(37), legendAt(765)],
  grid: grids.map(g => ({ left: g.left, top: g.top, width: g.width, height: g.height, containLabel: false, outerBoundsMode: 'none', show: false })),
  xAxis, yAxis, series, graphic,
  tooltip: { show: false }
});
</script></body></html>
